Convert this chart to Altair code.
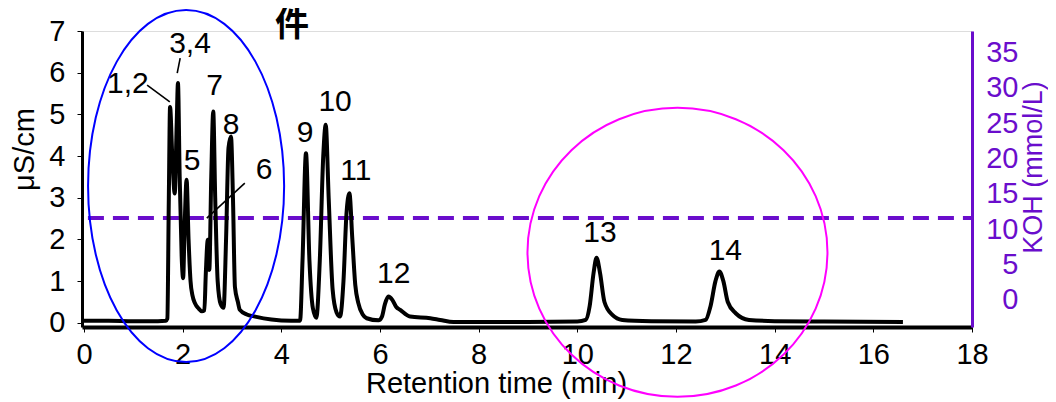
import altair as alt
import pandas as pd

PURPLE = "#6A0DCC"
FONT = "Liberation Sans"

# Chromatogram trace (retention time in min, conductivity in uS/cm)
time_min = [0.0, 0.5, 1.0, 1.5, 1.66, 1.69, 1.72, 1.745, 1.79, 1.84, 1.88, 1.905, 1.94, 1.98,
            2.01, 2.04, 2.08, 2.12, 2.16, 2.2, 2.25, 2.32, 2.39, 2.44, 2.47, 2.51, 2.54, 2.58,
            2.62, 2.66, 2.71, 2.77, 2.83, 2.88, 2.93, 2.98, 3.02, 3.06, 3.12, 3.16, 3.3, 3.47,
            3.8, 4.2, 4.38, 4.43, 4.50, 4.57, 4.64, 4.71, 4.78, 4.85, 4.90, 4.96, 5.04, 5.12,
            5.19, 5.26, 5.32, 5.38, 5.44, 5.50, 5.56, 5.65, 5.73, 5.97, 6.04, 6.10, 6.17, 6.25,
            6.33, 6.41, 6.61, 7.02, 7.22, 7.49, 8.0, 9.0, 10.0, 10.17, 10.25, 10.33, 10.39,
            10.46, 10.55, 10.71, 10.91, 11.5, 12.4, 12.6, 12.7, 12.8, 12.88, 12.96, 13.05,
            13.21, 13.48, 14.0, 15.0, 16.6]
signal_uScm = [0.05, 0.05, 0.04, 0.04, 0.05, 0.1, 3.0, 5.18, 4.0, 3.1, 4.8, 5.75, 3.5, 1.6,
               1.07, 2.3, 3.43, 2.0, 1.0, 0.65, 0.47, 0.35, 0.28, 0.3, 1.2, 1.99, 1.27, 3.5,
               5.07, 3.0, 1.0, 0.45, 0.36, 2.0, 4.2, 4.47, 3.0, 0.86, 0.5, 0.31, 0.2, 0.15,
               0.08, 0.05, 0.05, 1.5, 4.07, 1.5, 0.35, 0.12, 1.5, 4.0, 4.75, 3.0, 0.8, 0.25,
               0.15, 1.0, 2.6, 3.11, 2.0, 0.9, 0.48, 0.2, 0.11, 0.06, 0.15, 0.45, 0.63, 0.55,
               0.38, 0.31, 0.15, 0.11, 0.07, 0.02, 0.02, 0.02, 0.03, 0.07, 0.4, 1.2, 1.56,
               1.2, 0.5, 0.19, 0.07, 0.04, 0.03, 0.07, 0.4, 1.0, 1.23, 1.0, 0.5,
               0.23, 0.07, 0.04, 0.03, 0.02]

# Peak labels
peak_labels = ["1,2", "3,4", "5", "6", "7", "8", "9", "10", "11", "12", "13", "14"]
label_t = [0.89, 2.15, 2.19, 3.65, 2.65, 2.98, 4.48, 5.09, 5.51, 6.28, 10.46, 13.0]
label_v = [5.73, 6.69, 3.88, 3.67, 5.68, 4.75, 4.55, 5.30, 3.64, 1.17, 2.15, 1.72]

# Leader lines
leader_t1 = [1.28, 1.95, 3.26]
leader_v1 = [5.70, 6.35, 3.35]
leader_t2 = [1.74, 1.89, 2.49]
leader_v2 = [5.30, 5.99, 2.51]

# Eluent concentration (KOH, mmol/L)
koh_time = [0.08, 18.0]
koh_conc = [11.6, 11.6]

# Highlight ellipses
ellipse_names = ["blue", "magenta"]
ellipse_t = [2.07, 12.03]
ellipse_v = [3.28, 1.69]

trace_df = pd.DataFrame({"t": time_min, "v": signal_uScm})
label_df = pd.DataFrame({"t": label_t, "v": label_v, "lab": peak_labels})
leader_df = pd.DataFrame({"t1": leader_t1, "v1": leader_v1, "t2": leader_t2, "v2": leader_v2})
koh_df = pd.DataFrame({"t": koh_time, "k": koh_conc})
ell_df = pd.DataFrame({"name": ellipse_names, "t": ellipse_t, "v": ellipse_v})

xs = alt.Scale(domain=[-0.04, 18], nice=False, zero=False)
ys = alt.Scale(domain=[-0.1, 7], nice=False, zero=False)
ks = alt.Scale(domain=[-3.82, 38.05], nice=False, zero=False)

x_axis = alt.Axis(values=list(range(0, 19, 2)), domainColor="black", domainWidth=4,
                  tickColor="black", tickSize=5, tickWidth=1, labelFontSize=29,
                  labelPadding=8, labelFont=FONT, labelColor="black", labelFlush=False,
                  title="Retention time (min)", titleFont=FONT, titleFontSize=29,
                  titleFontWeight="normal", titleColor="black", titleX=414, titleY=65,
                  titleBaseline="alphabetic", grid=False)
y_axis = alt.Axis(values=list(range(0, 8)), orient="left", domainColor="black",
                  domainWidth=3, tickColor="black", tickSize=5, labelFontSize=29,
                  labelPadding=12, labelFont=FONT, labelColor="black", labelFlush=False,
                  title="μS/cm", titleFont=FONT, titleFontSize=29, titleFontWeight="normal",
                  titleColor="black", titleAngle=270, titleX=-58, titleY=118,
                  titleBaseline="middle", grid=False)
k_axis = alt.Axis(values=list(range(0, 36, 5)), orient="right", domainColor=PURPLE,
                  domainWidth=3, ticks=False, labelFontSize=29, labelPadding=46,
                  labelAlign="right", labelFont=FONT, labelColor=PURPLE, labelFlush=False,
                  title="KOH (mmol/L)", titleFont=FONT, titleFontSize=27,
                  titleFontWeight="normal", titleColor=PURPLE, titleAngle=270,
                  titleX=61, titleY=136, titleBaseline="middle", grid=False)

koh = alt.Chart(koh_df).mark_line(color=PURPLE, strokeWidth=4, strokeDash=[16, 9]).encode(
    x=alt.X("t:Q", scale=xs, axis=x_axis),
    y=alt.Y("k:Q", scale=ks, axis=k_axis),
)

trace = alt.Chart(trace_df).mark_line(color="black", strokeWidth=4, interpolate="monotone",
                                      strokeJoin="round").encode(
    x=alt.X("t:Q", scale=xs, axis=x_axis),
    y=alt.Y("v:Q", scale=ys, axis=y_axis),
)

leaders = alt.Chart(leader_df).mark_rule(color="black", strokeWidth=1.6).encode(
    x=alt.X("t1:Q", scale=xs), y=alt.Y("v1:Q", scale=ys),
    x2="t2:Q", y2="v2:Q",
)

labels = alt.Chart(label_df).mark_text(font=FONT, fontSize=30, color="black",
                                       align="center", baseline="middle").encode(
    x=alt.X("t:Q", scale=xs), y=alt.Y("v:Q", scale=ys), text="lab:N",
)

blue_path = "M -0.557 0 A 0.557 1 0 1 1 0.557 0 A 0.557 1 0 1 1 -0.557 0 Z"
mag_path = "M -1.038 0 A 1.038 1 0 1 1 1.038 0 A 1.038 1 0 1 1 -1.038 0 Z"

ell_blue = alt.Chart(ell_df).transform_filter(alt.datum.name == "blue").mark_point(
    shape=blue_path, size=352 * 352, filled=False, stroke="#0000FF", strokeWidth=2,
    opacity=1).encode(x=alt.X("t:Q", scale=xs), y=alt.Y("v:Q", scale=ys))
ell_mag = alt.Chart(ell_df).transform_filter(alt.datum.name == "magenta").mark_point(
    shape=mag_path, size=289 * 289, filled=False, stroke="#FF00FF", strokeWidth=2,
    opacity=1).encode(x=alt.X("t:Q", scale=xs), y=alt.Y("v:Q", scale=ys))

title_txt = alt.Chart(pd.DataFrame({"s": ["件"]})).mark_text(
    font="Noto Sans CJK SC", fontSize=34, fontWeight="bold", color="black",
    align="center", baseline="middle").encode(
    x=alt.value(210), y=alt.value(-5), text="s:N")

left = alt.layer(trace, leaders, labels, ell_blue, ell_mag, title_txt)

chart = alt.layer(koh, left).resolve_scale(y="independent").properties(
    width=890, height=296,
    padding={"left": 74, "top": 23, "right": 76, "bottom": 72},
    autosize="none",
).configure_view(stroke=None).configure(background="white")

chart.save("out.html", embed_options={"renderer": "svg", "actions": False})
